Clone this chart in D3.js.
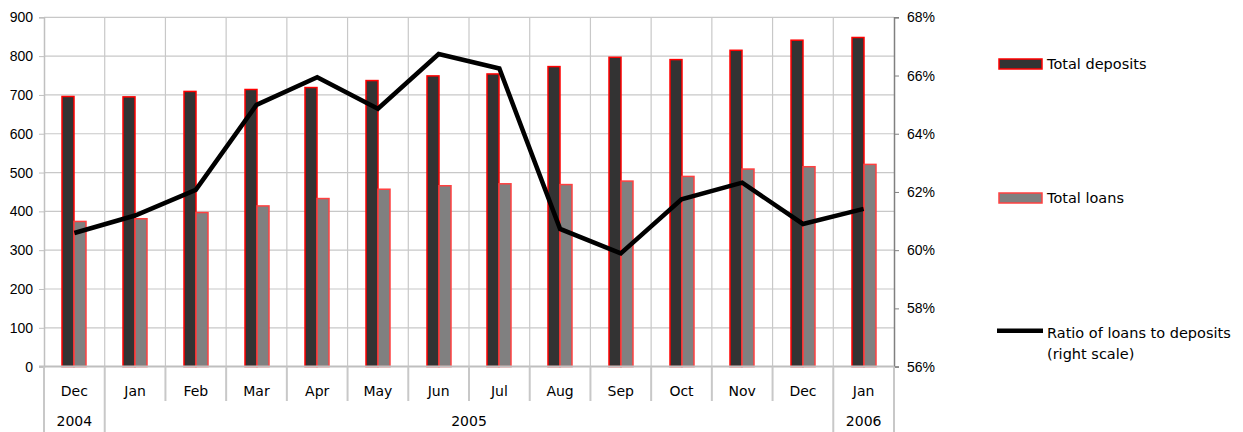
<!DOCTYPE html>
<html><head><meta charset="utf-8">
<script src="https://cdn.jsdelivr.net/npm/d3@7"></script>
<style>body{margin:0;background:#fff}svg{display:block;font-family:"DejaVu Sans",Verdana,sans-serif}</style>
</head><body><svg id="c" width="1243" height="432"></svg>
<script>
const months = ["Dec","Jan","Feb","Mar","Apr","May","Jun","Jul","Aug","Sep","Oct","Nov","Dec","Jan"];
const years = [{label:"2004",from:0,to:1},{label:"2005",from:1,to:13},{label:"2006",from:13,to:14}];
const deposits = [696,695,709,714,719,737,749,754,773,797,791,815,841,848];
const loans = [374,381,397,414,433,457,466,471,469,478,490,509,515,521];
const ratio = [60.59,61.19,62.07,64.99,65.94,64.86,66.74,66.24,60.73,59.89,61.75,62.32,60.90,61.42];
const leftTicks = [0,100,200,300,400,500,600,700,800,900];
const rightTicks = [56,58,60,62,64,66,68];
const seriesNames = ["Total deposits","Total loans","Ratio of loans to deposits","(right scale)"];

const FS = 14;
const svg = d3.select("#c");
const L=44, R=894, T=17.3, B=366.6;
const idx = d3.range(months.length);
const x = d3.scaleBand().domain(idx).range([L,R]).paddingInner(0).paddingOuter(0);
const y = d3.scaleLinear().domain([0,900]).range([B,T]);
const y2 = d3.scaleLinear().domain([56,68]).range([B,T]);
const bw = 12;
const cx = i => Math.round(x(i)+x.bandwidth()/2);

// grid
const g = svg.append("g");
g.selectAll(".hg").data(leftTicks.slice(1)).join("line")
  .attr("x1",L).attr("x2",R).attr("y1",d=>y(d)).attr("y2",d=>y(d))
  .attr("stroke","#c8c8c8").attr("stroke-width",1.2);
g.selectAll(".vg").data(idx.slice(1)).join("line")
  .attr("x1",d=>x(d)).attr("x2",d=>x(d)).attr("y1",T).attr("y2",B)
  .attr("stroke","#c8c8c8").attr("stroke-width",1.2);

// bars
g.selectAll(".dep").data(deposits).join("rect")
  .attr("x",(d,i)=>cx(i)-bw).attr("width",bw)
  .attr("y",d=>y(d)).attr("height",d=>B-y(d))
  .attr("fill","#333333").attr("stroke","#ff0000").attr("stroke-width",1.5);
g.selectAll(".loan").data(loans).join("rect")
  .attr("x",(d,i)=>cx(i)).attr("width",bw)
  .attr("y",d=>y(d)).attr("height",d=>B-y(d))
  .attr("fill","#808080").attr("stroke","#ff4040").attr("stroke-width",1.5);

// left axis
const la = svg.append("g").attr("transform",`translate(${L},0)`)
  .call(d3.axisLeft(y).tickValues(leftTicks).tickSize(5).tickPadding(6).tickFormat(d3.format("d")));
la.select(".domain").attr("stroke","#c0c0c0").attr("stroke-width",1.5);
la.selectAll(".tick line").attr("stroke","#c0c0c0");
la.selectAll("text").attr("font-size",FS).attr("fill","#000").attr("font-family",null);

// right axis
const ra = svg.append("g").attr("transform",`translate(${R},0)`)
  .call(d3.axisRight(y2).tickValues(rightTicks).tickSize(5).tickPadding(8).tickFormat(d=>d+"%"));
ra.select(".domain").attr("stroke","#808080").attr("stroke-width",1.5);
ra.selectAll(".tick line").attr("stroke","#808080");
ra.selectAll("text").attr("font-size",FS).attr("fill","#000").attr("font-family",null);

// x axis
svg.append("line").attr("x1",L-5).attr("x2",R).attr("y1",B).attr("y2",B)
  .attr("stroke","#bfbfbf").attr("stroke-width",2);
const yearBounds = new Set(years.map(d=>d.from).concat([months.length]));
svg.selectAll(".sep").data(d3.range(months.length+1)).join("line")
  .attr("x1",d=>d===months.length?R:x(d)).attr("x2",d=>d===months.length?R:x(d))
  .attr("y1",B).attr("y2",d=>yearBounds.has(d)?432:401)
  .attr("stroke","#c8c8c8").attr("stroke-width",2);
svg.selectAll(".ml").data(months).join("text")
  .attr("x",(d,i)=>x(i)+x.bandwidth()/2).attr("y",391).attr("dy","0.35em")
  .attr("text-anchor","middle").attr("font-size",FS).text(d=>d);
svg.selectAll(".yl").data(years).join("text")
  .attr("x",d=>((d.from===0?L:x(d.from)) + (d.to===months.length?R:x(d.to)))/2).attr("y",421).attr("dy","0.35em")
  .attr("text-anchor","middle").attr("font-size",FS).text(d=>d.label);

// ratio line
svg.append("path").datum(ratio)
  .attr("d",d3.line().x((d,i)=>x(i)+x.bandwidth()/2).y(d=>y2(d)))
  .attr("fill","none").attr("stroke","#000").attr("stroke-width",4.5).attr("stroke-linejoin","miter");

// legend
const lg = svg.append("g");
lg.append("rect").attr("x",999).attr("y",59).attr("width",43).attr("height",10)
  .attr("fill","#333333").attr("stroke","#ff0000").attr("stroke-width",1.5);
lg.append("text").attr("x",1047).attr("y",64).attr("dy","0.35em").attr("font-size",FS+0.5).text(seriesNames[0]);
lg.append("rect").attr("x",999).attr("y",193).attr("width",43).attr("height",10)
  .attr("fill","#808080").attr("stroke","#ff4040").attr("stroke-width",1.5);
lg.append("text").attr("x",1047).attr("y",198).attr("dy","0.35em").attr("font-size",FS+0.5).text(seriesNames[1]);
lg.append("line").attr("x1",997).attr("x2",1043).attr("y1",330.7).attr("y2",330.7)
  .attr("stroke","#000").attr("stroke-width",4.5);
lg.append("text").attr("x",1047).attr("y",333).attr("dy","0.35em").attr("font-size",FS+0.5).text(seriesNames[2]);
lg.append("text").attr("x",1047).attr("y",354).attr("dy","0.35em").attr("font-size",FS+0.5).text(seriesNames[3]);
</script></body></html>
